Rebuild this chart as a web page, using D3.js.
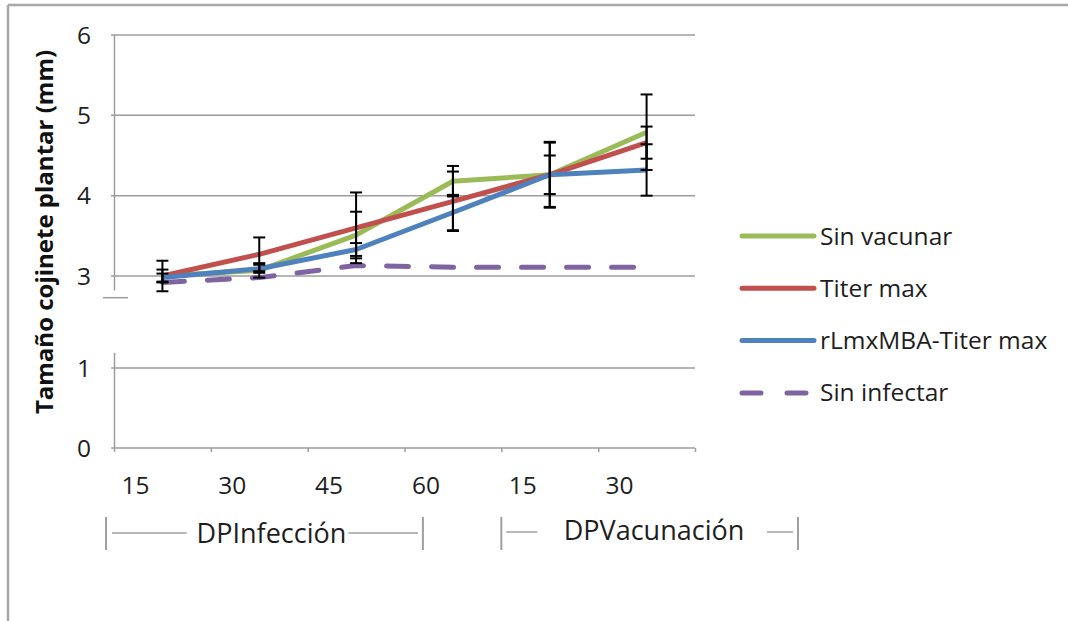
<!DOCTYPE html>
<html>
<head>
<meta charset="utf-8">
<script src="https://d3js.org/d3.v7.min.js"></script>
<style>
  body { margin:0; background:#fff; }
  text { font-family:"Open Sans", sans-serif; fill:#1e1e1e; }
</style>
</head>
<body>
  <div id="my_dataviz"></div>
  <script>
    // categories (days post infection / post vaccination)
    var categories = ["DPI15","DPI30","DPI45","DPI60","DPV15","DPV30"];
    var tickLabels = ["15","30","45","60","15","30"];
    var yTicksTop = [3,4,5,6];
    var yTicksBottom = [0,1];

    var sinVacunar   = [3.00, 3.07, 3.51, 4.18, 4.26, 4.79];
    var titerMax     = [3.00, 3.27, 3.60, 3.93, 4.26, 4.66];
    var rLmxMBA      = [2.98, 3.09, 3.33, 3.79, 4.26, 4.32];
    var sinInfectar  = [2.92, 2.98, 3.13, 3.11, 3.11, 3.11];

    var errSinVacunar = [0.19, 0.09, 0.29, 0.19, 0.41, 0.47];
    var errTiterMax   = [0.08, 0.21, 0.44, 0.37, 0.40, 0.20];
    var errRLmxMBA    = [0.05, 0.05, 0.08, 0.22, 0.24, 0.32];

    var series = [
      {name:"Sin vacunar", values:sinVacunar, err:errSinVacunar, color:"#9bbb59", dash:null},
      {name:"Titer max", values:titerMax, err:errTiterMax, color:"#c0504d", dash:null},
      {name:"rLmxMBA-Titer max", values:rLmxMBA, err:errRLmxMBA, color:"#4f81bd", dash:null},
      {name:"Sin infectar", values:sinInfectar, err:null, color:"#8064a2", dash:"22,23"}
    ];

    var groupLabels = ["DPInfección", "DPVacunación"];

    var W = 1068, H = 621;
    var svg = d3.select("#my_dataviz").append("svg")
      .attr("width", W).attr("height", H);

    // outer frame (only top and left visible)
    svg.append("line").attr("x1",8).attr("x2",W).attr("y1",5).attr("y2",5)
      .style("stroke","#a8a8a8").style("stroke-width",2.5);
    svg.append("line").attr("x1",8).attr("x2",8).attr("y1",5).attr("y2",H)
      .style("stroke","#a8a8a8").style("stroke-width",2.5);

    var x = d3.scaleBand().domain(categories).range([114, 695]);
    var xc = function(i){ return x(categories[i]) + x.bandwidth()/2; };
    var yTop = d3.scaleLinear().domain([3,6]).range([276, 35]);
    var yBot = d3.scaleLinear().domain([0,1]).range([448, 368]);

    var grid = "#9c9c9c";

    // gridlines
    yTicksTop.forEach(function(v){
      svg.append("line").attr("x1",111).attr("x2",695)
        .attr("y1",yTop(v)).attr("y2",yTop(v))
        .style("stroke",grid).style("stroke-width",1.5);
    });
    yTicksBottom.forEach(function(v){
      svg.append("line").attr("x1",111).attr("x2",695)
        .attr("y1",yBot(v)).attr("y2",yBot(v))
        .style("stroke",grid).style("stroke-width",1.5);
    });

    // broken y axis
    svg.append("line").attr("x1",114.5).attr("x2",114.5)
      .attr("y1",yTop(6)).attr("y2",yTop(2.82))
      .style("stroke",grid).style("stroke-width",1.5);
    svg.append("line").attr("x1",114.5).attr("x2",114.5)
      .attr("y1",yBot(1.19)).attr("y2",yBot(0))
      .style("stroke",grid).style("stroke-width",1.5);
    svg.append("line").attr("x1",103).attr("x2",128)
      .attr("y1",yTop(2.73)).attr("y2",yTop(2.73))
      .style("stroke",grid).style("stroke-width",1.5);

    // x tick marks at band edges
    categories.concat(["end"]).forEach(function(c,i){
      var px = i < categories.length ? x(c) : x.range()[1];
      svg.append("line").attr("x1",px+0.5).attr("x2",px+0.5)
        .attr("y1",yBot(0)).attr("y2",yBot(0)+4)
        .style("stroke",grid).style("stroke-width",1.5);
    });

    // y tick labels
    yTicksTop.forEach(function(v){
      svg.append("text").attr("x",91).attr("y",yTop(v)).attr("dy","0.36em")
        .attr("text-anchor","end").style("font-size","24.5px").text(v);
    });
    yTicksBottom.forEach(function(v){
      svg.append("text").attr("x",91).attr("y",yBot(v)).attr("dy","0.36em")
        .attr("text-anchor","end").style("font-size","24.5px").text(v);
    });

    // x tick labels
    tickLabels.forEach(function(t,i){
      svg.append("text").attr("x",xc(i)-27).attr("y",494)
        .attr("text-anchor","middle").style("font-size","24.5px").text(t);
    });

    // y axis title
    svg.append("text")
      .attr("transform","translate(53,232) rotate(-90)")
      .attr("text-anchor","middle")
      .style("font-size","24px").style("font-weight","bold")
      .style("fill","#111")
      .text("Tamaño cojinete plantar (mm)");

    // lines
    var line = d3.line()
      .x(function(d,i){ return xc(i); })
      .y(function(d){ return yTop(d); });

    series.forEach(function(s){
      svg.append("path").datum(s.values)
        .attr("d", line)
        .style("fill","none")
        .style("stroke", s.color)
        .style("stroke-width",5)
        .style("stroke-linecap", s.dash ? "round" : "butt")
        .style("stroke-linejoin","round")
        .style("stroke-dasharray", s.dash);
    });

    // error bars
    series.forEach(function(s){
      if (!s.err) return;
      s.values.forEach(function(v,i){
        var cx = xc(i), hi = yTop(v + s.err[i]), lo = yTop(v - s.err[i]);
        svg.append("line").attr("x1",cx).attr("x2",cx).attr("y1",hi).attr("y2",lo)
          .style("stroke","#000").style("stroke-width",2);
        [hi,lo].forEach(function(yy){
          svg.append("line").attr("x1",cx-6).attr("x2",cx+6).attr("y1",yy).attr("y2",yy)
            .style("stroke","#000").style("stroke-width",2);
        });
      });
    });

    // legend
    var leg = svg.append("g");
    series.forEach(function(s,i){
      var ly = 236 + i*52.3;
      leg.append("line").attr("x1",742).attr("x2",814).attr("y1",ly).attr("y2",ly)
        .style("stroke",s.color).style("stroke-width",5)
        .style("stroke-linecap","round")
        .style("stroke-dasharray", s.dash ? "19,26" : null);
      leg.append("text").attr("x",820).attr("y",ly).attr("dy","0.35em")
        .style("font-size","24.5px").text(s.name);
    });

    // hand-drawn group brackets under the category labels
    var br = "#a0a0a0";
    function vbar(px){
      svg.append("line").attr("x1",px).attr("x2",px).attr("y1",517).attr("y2",550)
        .style("stroke",br).style("stroke-width",2);
    }
    function hseg(a,b,yy){
      svg.append("line").attr("x1",a).attr("x2",b).attr("y1",yy).attr("y2",yy)
        .style("stroke",br).style("stroke-width",1.5);
    }
    // DPInfección: from the first tick to just left of the 60 label
    var g1L = x(categories[0]) - 8, g1R = xc(3) - 30;
    vbar(g1L); vbar(g1R);
    var t1 = svg.append("text").attr("x",(g1L+g1R)/2 + 7).attr("y",543)
      .attr("text-anchor","middle").style("font-size","27px").text(groupLabels[0]);
    var w1 = t1.node().getComputedTextLength(), c1 = (g1L+g1R)/2 + 7;
    hseg(g1L+6, c1 - w1/2 - 10, 533);
    hseg(c1 + w1/2 + 2, g1R - 5, 533);

    // DPVacunación: from the 15 tick to beyond the axis end
    var g2L = x(categories[4]), g2R = x.range()[1] + 103;
    vbar(g2L); vbar(g2R);
    svg.append("text").attr("x",654).attr("y",540)
      .attr("text-anchor","middle").style("font-size","27px").text(groupLabels[1]);
    hseg(g2L+5, g2L+36, 532);
    hseg(g2R-31, g2R-5, 532);
  </script>
</body>
</html>
